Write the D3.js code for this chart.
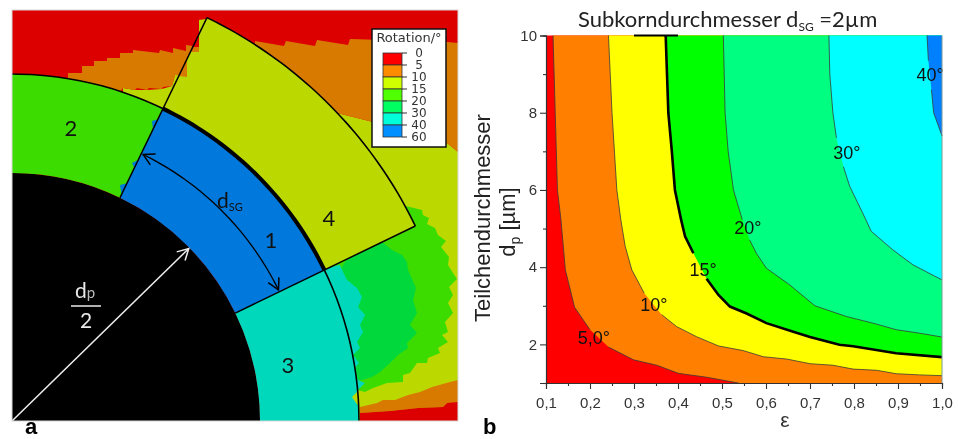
<!DOCTYPE html>
<html><head><meta charset="utf-8">
<script src="https://cdn.jsdelivr.net/npm/d3@7"></script>
<style>html,body{margin:0;padding:0;background:#fff}svg{display:block;filter:blur(.45px)}</style>
</head><body><svg id="c" width="958" height="439"></svg>
<script>
// ---------- Panel b data ----------
const xTicksMajor=[.1,.2,.3,.4,.5,.6,.7,.8,.9,1];
const xTicksMinor=[.15,.25,.35,.45,.55,.65,.75,.85,.95];
const yTicksMajor=[2,4,6,8,10];
const yTicksMinor=[1,3,5,7,9];
const bandColors=["#ff0000","#ff8000","#ffff00","#00ff00","#00ff80","#00ffff","#0080ff"];
const contour5=[[.116,10],[.121,8],[.126,6],[.134,5.23],[.144,3.93],[.165,2.96],[.2,2.38],[.242,1.93],[.299,1.6],[.352,1.46],[.401,1.25],[.465,1.15],[.537,1]];
const contour10=[[.242,10],[.25,8],[.261,6],[.27,5.23],[.28,4.54],[.295,3.93],[.323,3.33],[.363,2.77],[.397,2.46],[.442,2.2],[.492,1.96],[.548,1.84],[.594,1.68],[.647,1.62],[.7,1.5],[.752,1.46],[.798,1.36],[.851,1.33],[.896,1.24],[.949,1.21],[1,1.19]];
const contour15=[[.372,10],[.378,8],[.386,7],[.393,6],[.407,5.23],[.416,4.8],[.435,4.36],[.465,3.7],[.492,3.28],[.518,2.98],[.556,2.8],[.601,2.55],[.662,2.33],[.7,2.19],[.767,1.99],[.798,1.95],[.896,1.77],[1,1.67]];
const contour20=[[.503,10],[.507,8],[.514,7],[.526,6],[.546,5.23],[.563,4.7],[.578,4.36],[.601,3.97],[.654,3.54],[.711,3],[.783,2.72],[.843,2.55],[.896,2.38],[.949,2.29],[1,2.19]];
const contour30=[[.743,10],[.745,9],[.752,8],[.76,7.35],[.776,6.6],[.79,6.1],[.824,5.3],[.839,4.93],[.888,4.45],[.934,4.06],[1,3.67]];
const contour40=[[.966,10],[.969,9.35],[.976,8.6],[.981,8],[1,7.4]];
const contourGap=[6,6,6,4,3,1]; // segment hidden behind each label
const contourLabels=["5,0°","10°","15°","20°","30°","40°"];
const labelEps=[.209,.345,.457,.559,.784,.973];
const labelDp=[2.17,3.02,3.93,5.02,6.96,8.98];
// ---------- Panel a data (units measured from the particle centre) ----------
const radii=[248,347,448];
const angles=[0,25.8,64.2,90];
const grainNames=["2","1","3","4"];
const grainLabelX=[59,259,276,317];
const grainLabelY=[293,181,56,203];
const orangeLeft=[[56,348],[70,348],[70,355],[82,355],[82,360],[95,360],[95,363],[108,363],[108,368],[121,368],[121,371],[147,368],[148,371],[161,368],[161,373],[174,370],[174,376],[187,374],[187,369],[175,369],[175,344],[163,346],[160,335],[151,334],[150,332],[137,333],[135,331],[125,333],[123,331],[111,333],[100,320],[56,340]];
const yellowLeft=[[111,333],[123,331],[135,331],[150,332],[160,335],[163,346],[180,346],[152,310],[111,315]];
const orangeRight=[[243,380],[272,375],[274,380],[303,375],[305,381],[336,376],[338,382],[435,379],[446,378],[446,269],[435,278],[361,299],[321,309],[240,330]];
const yellowRight=[[240,330],[321,309],[361,299],[435,278],[446,269],[446,0],[300,0],[300,200]];
const greenBlob=[[390,216],[410,211],[411,206],[417,203],[415,197],[423,193],[426,186],[434,180],[429,174],[437,164],[436,156],[441,148],[445,142],[437,134],[441,126],[436,118],[441,108],[433,99],[436,89],[430,86],[436,79],[426,73],[428,68],[416,63],[415,58],[405,58],[398,48],[391,46],[391,39],[375,38],[361,33],[353,29],[345,31],[300,100],[300,200]];
const springBlob=[[330,154],[336,164],[370,179],[380,171],[390,166],[395,159],[396,151],[404,133],[401,121],[405,108],[398,96],[405,88],[395,78],[396,73],[386,66],[378,58],[368,49],[360,44],[350,41],[300,41]];
const tealStrip=[[313,153],[328,156],[331,149],[335,141],[345,133],[350,124],[346,114],[353,106],[348,96],[351,89],[345,79],[348,73],[341,66],[347,58],[341,51],[346,41],[353,38],[345,30],[300,30],[300,153]];
const orangeLow=[[348,14],[365,18],[371,21],[383,21],[396,26],[408,29],[420,34],[438,39],[446,41],[446,19],[445,18],[435,18],[431,14],[406,13],[378,10],[348,8]];
const redLow=[[348,8],[378,10],[406,13],[431,14],[435,18],[446,19],[446,0],[348,0]];
const yellowPatch=[[340,24],[346,30],[349,16],[347,14]];
const yellowTip=[[187,401],[194,402],[203,399],[207,396],[187,385]];
const redNotch=[[187,387],[187,374],[180,374]];
const orangeNotch=[[187,374],[187,369],[175,369],[175,344],[167,345],[180,374]];
const blueTeeth=[[[151,303],[140,300],[141,291],[146,292]],[[128,262],[120,258],[124,250]],[[116,238],[108,236],[110,224]]];
const legendLevels=["0","5","10","15","20","30","40","60"];
const legendColors=["#ff0000","#ff8c00","#d0ff00","#50ff00","#00ff60","#00ffd8","#0090ff"];

const svg=d3.select("#c");
const sans="'Liberation Sans',Arial,sans-serif", lato="Lato,sans-serif", dv="'DejaVu Sans',sans-serif";
// ---------- Panel a ----------
const defs=svg.append("defs");
defs.append("clipPath").attr("id","clipA").append("rect").attr("x",12).attr("y",10).attr("width",446).attr("height",411);
function head(id,col){defs.append("marker").attr("id",id).attr("markerUnits","userSpaceOnUse").attr("viewBox","-12 -8 14 16").attr("markerWidth",14).attr("markerHeight",16).attr("refX",0).attr("refY",0).attr("orient","auto-start-reverse").append("path").attr("d","M-11,-6L0,0L-11,6").attr("fill","none").attr("stroke",col).attr("stroke-width",1.5);}
head("hk","#000");head("hw","#eee");
const xA=d3.scaleLinear().domain([0,446]).range([12,458]);
const yA=d3.scaleLinear().domain([0,411]).range([421,10]);
const rA=d3.scaleLinear().domain([0,446]).range([0,446]);
const rad=d=>d*Math.PI/180;
const gA=svg.append("g").attr("clip-path","url(#clipA)");
const cols={red:"#dc0000",orange:"#d97a00",lime:"#bbd900",green:"#3ddc00",spring:"#00d83c",teal:"#00d8bc",blue:"#0078dc"};
const poly=d3.line().x(d=>xA(d[0])).y(d=>yA(d[1]));
gA.append("rect").attr("x",xA(0)).attr("y",yA(411)).attr("width",xA(446)-xA(0)).attr("height",yA(0)-yA(411)).attr("fill",cols.red);
[[yellowRight,cols.lime],[orangeRight,cols.orange],[yellowLeft,cols.lime],[orangeLeft,cols.orange],[orangeLow,cols.orange],[redLow,cols.red],[greenBlob,cols.green],[springBlob,cols.spring],[tealStrip,cols.teal]].forEach(([p,c])=>{
  gA.append("path").attr("d",poly(p)+"Z").attr("fill",c);
});
const centre=gA.append("g").attr("transform",`translate(${xA(0)},${yA(0)})`);
const arc=d3.arc();
centre.append("path").attr("d",arc({innerRadius:0,outerRadius:rA(radii[0]),startAngle:0,endAngle:rad(90)})).attr("fill","#000");
[[0,1,cols.green],[1,2,cols.blue],[2,3,cols.teal]].forEach(([a,b,c])=>{
  centre.append("path").attr("d",arc({innerRadius:rA(radii[0]),outerRadius:rA(radii[1]),startAngle:rad(angles[a]),endAngle:rad(angles[b])})).attr("fill",c);
});
centre.append("path").attr("d",arc({innerRadius:rA(radii[1]),outerRadius:rA(radii[2]),startAngle:rad(angles[1]),endAngle:rad(angles[2])})).attr("fill",cols.lime);
blueTeeth.forEach(t=>gA.append("path").attr("d",poly(t)+"Z").attr("fill",cols.blue));
[[yellowPatch,cols.lime],[yellowTip,cols.lime],[redNotch,cols.red],[orangeNotch,cols.orange]].forEach(([p,c])=>gA.append("path").attr("d",poly(p)+"Z").attr("fill",c));
// arcs and radial lines sit above every coloured region
const strokes=gA.append("g").attr("transform",`translate(${xA(0)},${yA(0)})`);
const radial=d3.lineRadial().angle(d=>rad(d[0])).radius(d=>rA(d[1])).curve(d3.curveCatmullRom);
const arcPts=(a,b,r)=>d3.range(a,b+.01,(b-a)/24).map(t=>[t,r]);
const arcLine=(a,b,r,w)=>strokes.append("path").attr("d",radial(arcPts(a,b,r))).attr("fill","none").attr("stroke","#000").attr("stroke-width",w);
arcLine(0,90,radii[1],1.6);
arcLine(angles[1],angles[2],radii[1],4);
arcLine(angles[1],angles[2],radii[2],1.6);
[angles[1],angles[2]].forEach(a=>{
  strokes.append("path").attr("d",d3.lineRadial().angle(d=>rad(d[0])).radius(d=>rA(d[1]))([[a,radii[0]],[a,radii[2]]])).attr("fill","none").attr("stroke","#000").attr("stroke-width",1.5);
});
strokes.append("path").attr("d",radial(arcPts(26.2,63.8,297))).attr("fill","none").attr("stroke","#000").attr("stroke-width",1.3).attr("marker-start","url(#hk)").attr("marker-end","url(#hk)");
strokes.append("path").attr("d",d3.lineRadial().angle(d=>rad(d[0])).radius(d=>rA(d[1]))([[45.7,0],[45.7,247]])).attr("fill","none").attr("stroke","#eee").attr("stroke-width",1.5).attr("marker-end","url(#hw)");
svg.append("rect").attr("x",12).attr("y",10).attr("width",446).attr("height",411).attr("fill","none").attr("stroke","#d8d8d8").attr("stroke-width",1);
grainNames.forEach((n,i)=>svg.append("text").attr("x",xA(grainLabelX[i])).attr("y",yA(grainLabelY[i])).attr("dy",".35em").attr("text-anchor","middle").attr("font-family",lato).attr("font-size",22).attr("fill","#111").text(n));
const dsg=svg.append("text").attr("x",217).attr("y",208).attr("font-family",lato).attr("font-size",21).attr("fill","#111");
dsg.append("tspan").text("d");dsg.append("tspan").attr("font-size",11).attr("dy",3).text("SG");
const dp=svg.append("text").attr("x",75).attr("y",298).attr("font-family",lato).attr("font-size",21).attr("fill","#e8e8e8");
dp.append("tspan").text("d");dp.append("tspan").attr("font-size",15).attr("fill","#bbb").text("p");
svg.append("line").attr("x1",71).attr("x2",101).attr("y1",306).attr("y2",306).attr("stroke","#ddd").attr("stroke-width",1.6);
svg.append("text").attr("x",86).attr("y",328).attr("text-anchor","middle").attr("font-family",lato).attr("font-size",21).attr("fill","#e8e8e8").text("2");
svg.append("text").attr("x",25).attr("y",434).attr("font-family",sans).attr("font-weight","bold").attr("font-size",22).text("a");
svg.append("text").attr("x",483).attr("y",434).attr("font-family",sans).attr("font-weight","bold").attr("font-size",22).text("b");
// legend
const lg=svg.append("g");
lg.append("rect").attr("x",372).attr("y",29).attr("width",74).attr("height",118).attr("fill","#fff").attr("stroke","#111").attr("stroke-width",1.5);
lg.append("text").attr("x",409).attr("y",42).attr("text-anchor","middle").attr("font-family",dv).attr("font-size",13).attr("fill","#333").text("Rotation/°");
const yL=d3.scaleBand().domain(d3.range(legendColors.length)).range([53,137]);
lg.selectAll("rect.c").data(legendColors).join("rect").attr("class","c").attr("x",383).attr("width",19).attr("y",(d,i)=>yL(i)).attr("height",yL.bandwidth()).attr("fill",d=>d).attr("stroke","#333").attr("stroke-width",.8);
lg.selectAll("line.t").data(legendLevels).join("line").attr("class","t").attr("x1",402).attr("x2",407).attr("y1",(d,i)=>53+i*yL.bandwidth()).attr("y2",(d,i)=>53+i*yL.bandwidth()).attr("stroke","#333");
lg.selectAll("text.l").data(legendLevels).join("text").attr("class","l").attr("x",419).attr("text-anchor","middle").attr("y",(d,i)=>52+i*yL.bandwidth()+4.5).attr("font-family",dv).attr("font-size",12).attr("fill","#333").text(d=>d);
// ---------- Panel b ----------
const x=d3.scaleLinear().domain([.1,1]).range([546,942]);
const y=d3.scaleLinear().domain([1,10]).range([383,35.5]);
const gB=svg.append("g");
gB.append("rect").attr("x",x(.1)).attr("y",y(10)).attr("width",x(1)-x(.1)).attr("height",y(1)-y(10)).attr("fill",bandColors[0]);
const line=d3.line().x(d=>x(d[0])).y(d=>y(d[1]));
const contours=[contour5,contour10,contour15,contour20,contour30,contour40];
contours.forEach((c,i)=>{
  const last=c[c.length-1];
  gB.append("path").attr("d",line([...c,[1,last[1]],[1,10]])+"Z").attr("fill",bandColors[i+1]);
});
contours.forEach((c,i)=>{
  const g=contourGap[i];
  [c.slice(0,g+1),c.slice(g+1)].forEach(seg=>{
    gB.append("path").attr("d",line(seg)).attr("fill","none").attr("stroke",i==2?"#000":"#3a3a3a").attr("stroke-width",i==2?2.6:.8);
  });
});
gB.append("line").attr("x1",x(.3)).attr("x2",x(.4)).attr("y1",y(10)).attr("y2",y(10)).attr("stroke","#000").attr("stroke-width",2);
gB.selectAll("text.cl").data(contourLabels).join("text").attr("class","cl").attr("x",(d,i)=>x(labelEps[i])).attr("y",(d,i)=>y(labelDp[i])).attr("dy",".36em").attr("text-anchor","middle").attr("font-family",sans).attr("font-size",18).attr("fill","#111").text(d=>d);
// axes
const fmt=d=>d3.format(".1f")(d).replace(".",",");
const axB=svg.append("g").attr("transform",`translate(0,${y(1)})`).call(d3.axisBottom(x).tickValues(xTicksMajor).tickFormat(fmt).tickSize(6).tickPadding(8));
const axBm=svg.append("g").attr("transform",`translate(0,${y(1)})`).call(d3.axisBottom(x).tickValues(xTicksMinor).tickFormat("").tickSize(3));
const axL=svg.append("g").attr("transform",`translate(${x(.1)},0)`).call(d3.axisLeft(y).tickValues(yTicksMajor).tickSize(6).tickPadding(3));
const axLm=svg.append("g").attr("transform",`translate(${x(.1)},0)`).call(d3.axisLeft(y).tickValues(yTicksMinor).tickFormat("").tickSize(3));
[axB,axBm,axL,axLm].forEach(a=>{a.selectAll("text").attr("font-family",sans).attr("font-size",15).attr("fill","#333");a.selectAll("line,path").attr("stroke","#333").attr("stroke-width",1.1);});
svg.append("line").attr("x1",x(1)).attr("x2",x(1)).attr("y1",y(10)).attr("y2",y(1)).attr("stroke","#7a9a9a").attr("stroke-width",1);
svg.append("text").attr("x",785).attr("y",427).attr("text-anchor","middle").attr("font-family",sans).attr("font-size",21).attr("fill","#333").text("ε");
const tt=svg.append("text").attr("x",578).attr("y",27).attr("font-family",lato).attr("font-size",22).attr("fill","#222");
tt.append("tspan").text("Subkorndurchmesser d");tt.append("tspan").attr("font-size",12).attr("dy",4).text("SG");tt.append("tspan").attr("dy",-4).text(" =2µm");
svg.append("text").attr("transform","translate(490,218) rotate(-90)").attr("text-anchor","middle").attr("font-family",sans).attr("font-size",22).attr("fill","#222").text("Teilchendurchmesser");
const yt=svg.append("text").attr("transform","translate(515,222) rotate(-90)").attr("text-anchor","middle").attr("font-family",sans).attr("font-size",22).attr("fill","#222");
yt.append("tspan").text("d");yt.append("tspan").attr("font-size",14).attr("dy",5).text("p");yt.append("tspan").attr("dy",-5).text(" [µm]");
</script></body></html>
